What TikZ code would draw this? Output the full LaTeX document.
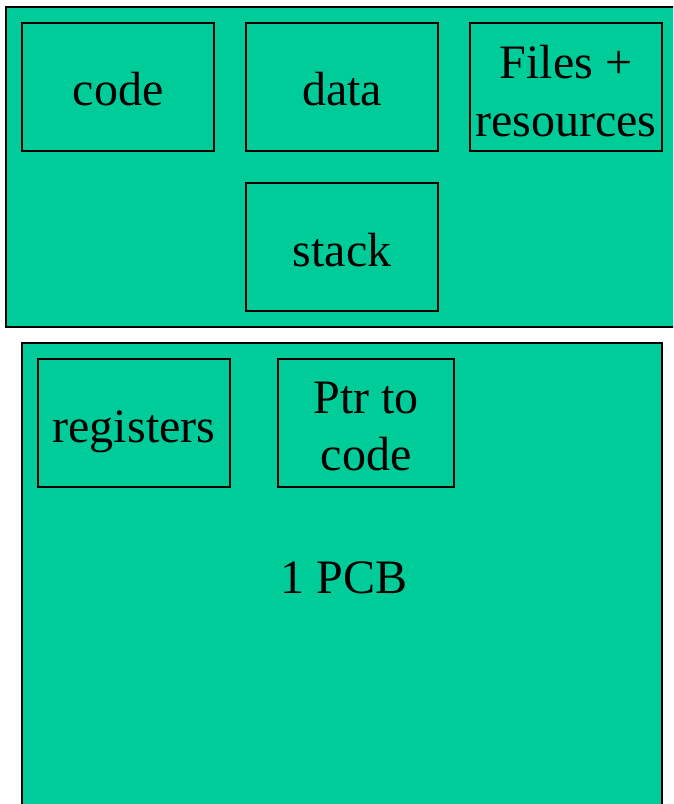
\documentclass[tikz,border=0pt]{standalone}
\usepackage{fontspec}
\setmainfont{Liberation Serif}
\definecolor{panel}{RGB}{0,204,153}
\begin{document}
\begin{tikzpicture}[x=1pt,y=-1pt,
  frame/.style={draw=black,line width=2pt,fill=panel},
  cell/.style={draw=black,line width=2pt,fill=panel,inner sep=0pt,
    minimum height=128pt,minimum width=192pt},
  lbl/.style={inner sep=0pt,anchor=base,font=\fontsize{48}{58}\selectfont}]
\useasboundingbox (0,0) rectangle (673,804);
\begin{scope}
\clip (0,0) rectangle (673,804);
% address space
\draw[frame] (6,7) rectangle (680,327);
% process control block
\draw[frame] (22,343) rectangle (662,820);
\end{scope}
% boxes
\node[cell] (code) at (118,87) {};
\node[cell] (data) at (342,87) {};
\node[cell] (files) at (566,87) {};
\node[cell] (stack) at (342,247) {};
\node[cell] (regs) at (134,423) {};
\node[cell,minimum width=176pt] (ptr) at (366,423) {};
% labels, placed on their baselines
\node[lbl] (codet) at (118,105) {code};
\node[lbl] (datat) at (342,105) {data};
\node[lbl] (filest) at (566,78) {Files +};
\node[lbl] (rest) at (566,136) {resources};
\node[lbl] (stackt) at (342,266) {stack};
\node[lbl] (regst) at (134,442) {registers};
\node[lbl] (ptrt) at (366,413) {Ptr to};
\node[lbl] (ptrc) at (366,470) {code};
\node[lbl] (pcb) at (344,593) {1 PCB};
\end{tikzpicture}
\end{document}
